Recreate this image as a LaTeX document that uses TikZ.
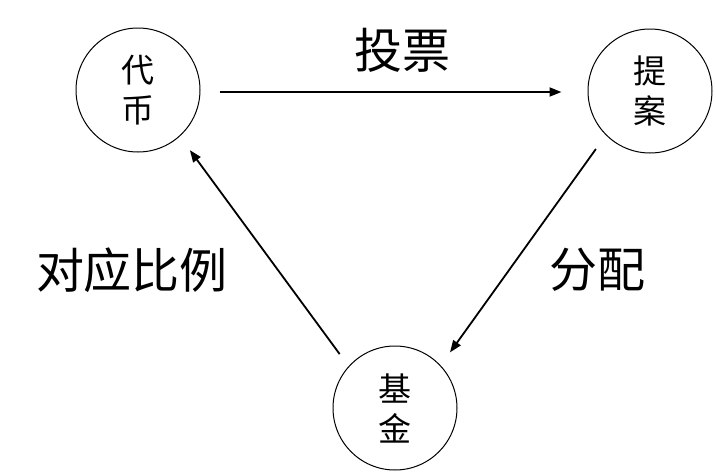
\documentclass[tikz,border=0pt]{standalone}
\usepackage{fontspec}
\newfontfamily\cjk{Noto Sans CJK SC}
\usetikzlibrary{arrows.meta}
\begin{document}
\begin{tikzpicture}[x=1pt,y=-1pt,
  circ/.style={draw,circle,line width=1pt,minimum size=124pt,inner sep=0pt,align=center,
    font=\cjk\fontsize{33}{40}\selectfont},
  lbl/.style={font=\cjk\fontsize{48}{50}\selectfont,inner sep=0pt},
  conn/.style={line width=1.8pt,-{Triangle[length=12pt,width=9pt]}}]
\useasboundingbox (0,0) rectangle (716,472);
\node[circ] (dai) at (138,90) {代\\币};
\node[circ] (ti) at (650,91) {提\\案};
\node[circ] (ji) at (395,408) {基\\金};
\node[lbl] (l1) at (402,50) {投票};
\node[lbl] (l2) at (132,270) {对应比例};
\node[lbl] (l3) at (597,270) {分配};
\draw[conn,shorten <=19pt,shorten >=26pt] ([yshift=-2pt]dai.east) -- ([yshift=-1pt]ti.west);
\draw[conn,shorten <=17pt,shorten >=16pt] (ti.225) -- (ji.43);
\draw[conn,shorten <=15pt,shorten >=17pt] (ji.138) -- (dai.312);
\end{tikzpicture}
\end{document}
